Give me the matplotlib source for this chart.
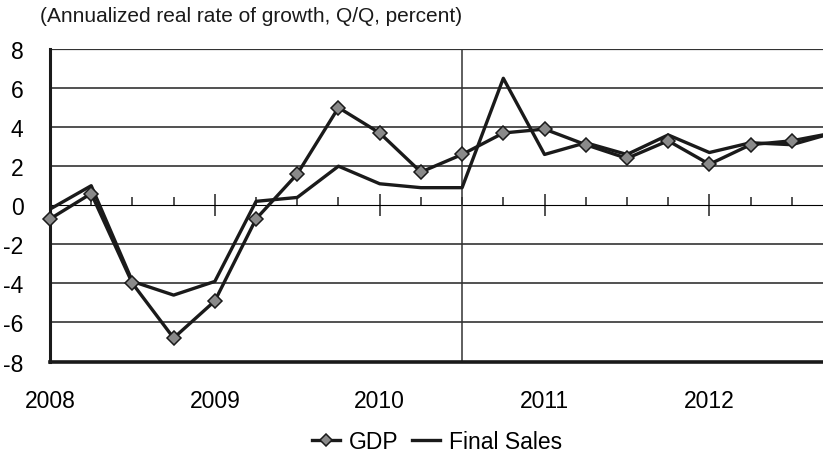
import numpy as np
import matplotlib
matplotlib.use("Agg")
import matplotlib.pyplot as plt
from matplotlib.lines import Line2D

plt.rcParams['font.family'] = ['Liberation Sans', 'DejaVu Sans']

# ---------------------------------------------
# Quarterly growth, 2008Q1 - 2012Q4
# ---------------------------------------------
quarters = ["2008Q1", "2008Q2", "2008Q3", "2008Q4",
            "2009Q1", "2009Q2", "2009Q3", "2009Q4",
            "2010Q1", "2010Q2", "2010Q3", "2010Q4",
            "2011Q1", "2011Q2", "2011Q3", "2011Q4",
            "2012Q1", "2012Q2", "2012Q3", "2012Q4"]
gdp = [-0.7, 0.6, -4.0, -6.8, -4.9, -0.7, 1.6, 5.0, 3.7, 1.7,
       2.6, 3.7, 3.9, 3.1, 2.4, 3.3, 2.1, 3.1, 3.3, 3.7]
final_sales = [-0.2, 1.0, -3.9, -4.6, -3.9, 0.2, 0.4, 2.0, 1.1, 0.9,
               0.9, 6.5, 2.6, 3.2, 2.6, 3.6, 2.7, 3.2, 3.1, 3.7]
year_labels = ["2008", "2009", "2010", "2011", "2012"]
y_ticks = [-8, -6, -4, -2, 0, 2, 4, 6, 8]
divider_quarter = "2010Q3"

x = np.arange(len(quarters))
year_pos = [quarters.index(y + "Q1") for y in year_labels]

ink = '#1a1a1a'
grid_col = '#333333'
lw = 2.4

fig = plt.figure(figsize=(8.23, 4.64), dpi=100)
# plot area runs past the right edge of the canvas
ax = fig.add_axes([50 / 823, 1 - 362.5 / 464, 783 / 823, 312.5 / 464])

ax.set_xlim(0, len(quarters) - 1)
ax.set_ylim(-8, 8)

for v in y_ticks[1:-1]:
    if v != 0:
        ax.axhline(v, color=grid_col, lw=1.2, zorder=1)
ax.axhline(8, color=grid_col, lw=1.6, zorder=1)

ax.axvline(quarters.index(divider_quarter), color=grid_col, lw=1.1, zorder=1)

for s in ['top', 'right']:
    ax.spines[s].set_visible(False)
ax.spines['left'].set_linewidth(2.2)
ax.spines['bottom'].set_linewidth(2.6)
ax.spines['left'].set_color(ink)
ax.spines['bottom'].set_color(ink)

ax.set_yticks(y_ticks)
ax.set_yticklabels([str(v) for v in y_ticks])
ax.tick_params(axis='y', length=0, pad=19, labelsize=16.5)

ax.set_xticks(year_pos)
ax.set_xticklabels(year_labels)
ax.tick_params(axis='x', length=0, pad=20, labelsize=16.5)

# zero axis with quarterly tick marks
zero_ax = ax.secondary_xaxis((0 - (-8)) / 16)
zero_ax.spines['bottom'].set_linewidth(1.2)
zero_ax.spines['bottom'].set_color(grid_col)
zero_ax.set_xticks(year_pos[1:], labels=[])
zero_ax.set_xticks(x, labels=[], minor=True)
zero_ax.tick_params(axis='x', which='major', direction='inout', length=16,
                    width=1.2, color=grid_col, labelbottom=False, labeltop=False)
zero_ax.tick_params(axis='x', which='minor', direction='out', length=6,
                    width=1.2, color=grid_col, labelbottom=False, labeltop=False)

ax.plot(x, final_sales, color=ink, lw=lw, zorder=3)
ax.plot(x, gdp, color=ink, lw=lw, zorder=4, marker='D', markersize=7,
        markerfacecolor='#8a8a8a', markeredgecolor=ink, markeredgewidth=1.1,
        clip_on=False)

fig.text(40 / 823, 1 - 17 / 464, "(Annualized real rate of growth, Q/Q, percent)",
         fontsize=15, va='center', ha='left', color=ink)

handles = [Line2D([], [], color=ink, lw=lw, marker='D', markersize=6,
                  markerfacecolor='#8a8a8a', markeredgecolor=ink, markeredgewidth=1.1),
           Line2D([], [], color=ink, lw=lw)]
fig.legend(handles, ["GDP", "Final Sales"], loc='center', ncol=2,
           bbox_to_anchor=(437 / 823, 1 - 443 / 464), frameon=False,
           fontsize=16.5, handlelength=1.2, handletextpad=0.4, columnspacing=0.6)

fig.savefig("out.png", dpi=100)
